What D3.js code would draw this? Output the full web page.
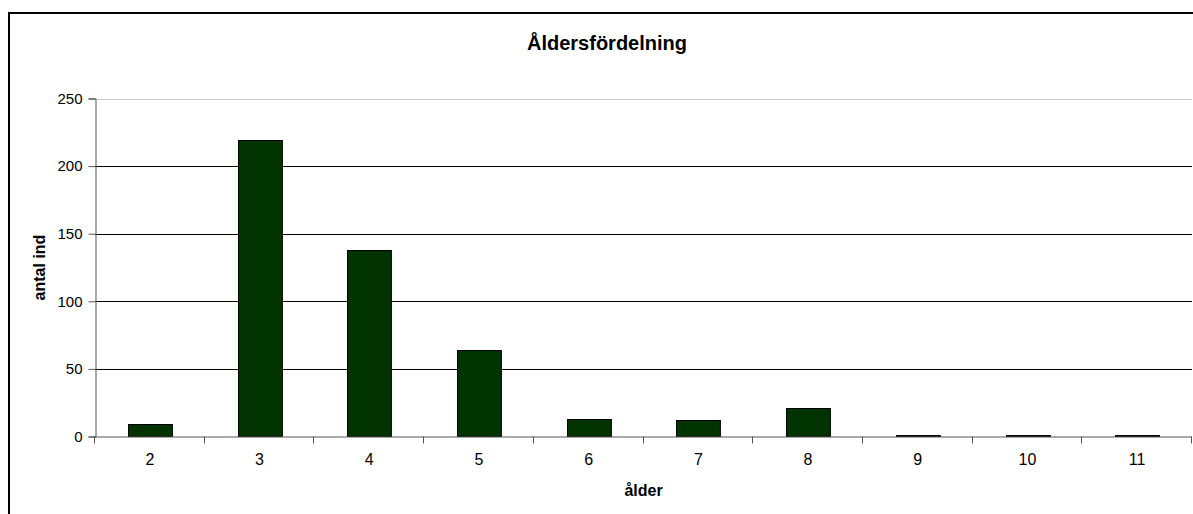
<!DOCTYPE html>
<html><head><meta charset="utf-8">
<script src="https://cdn.jsdelivr.net/npm/d3@7"></script>
<style>html,body{margin:0;padding:0;background:#fff;}svg{display:block;}</style>
</head><body>
<svg id="c" width="1193" height="514"></svg>
<script>
const categories = ["2","3","4","5","6","7","8","9","10","11"];
const values = [9, 219, 138, 64, 13, 12, 21, 1, 1, 1];
const yTicks = [0, 50, 100, 150, 200, 250];
const title = "Åldersfördelning";
const xTitle = "ålder";
const yTitle = "antal ind";

const svg = d3.select("#c");
const W = 1193, H = 514;
const m = {left: 95, right: 1192, top: 98.5, bottom: 436.5};
const FONT = "Arial, 'Liberation Sans', sans-serif";

svg.append("rect").attr("x", 9).attr("y", 13).attr("width", W + 10).attr("height", H + 10)
  .attr("fill", "#fff").attr("stroke", "#000").attr("stroke-width", 2);

const x = d3.scaleBand().domain(categories).range([m.left, m.right]).paddingInner(0.6).paddingOuter(0.3);
const xb = d3.scaleBand().domain(categories).range([m.left, m.right]);
const y = d3.scaleLinear().domain([0, 250]).range([m.bottom, m.top]);

// gridlines
svg.append("g").selectAll("line").data(yTicks.filter(d => d > 0)).join("line")
  .attr("x1", m.left).attr("x2", m.right)
  .attr("y1", d => Math.round(y(d)) + 0.5).attr("y2", d => Math.round(y(d)) + 0.5)
  .attr("stroke", d => d === 250 ? "#c8c8c8" : "#000").attr("stroke-width", 1);

// bars
svg.append("g").selectAll("rect").data(values).join("rect")
  .attr("x", (d, i) => Math.round(x(categories[i])) + 0.5)
  .attr("width", x.bandwidth())
  .attr("y", d => Math.round(y(d)) + 0.5)
  .attr("height", d => Math.max(0, m.bottom - Math.round(y(d)) - 0.5))
  .attr("fill", "#003300").attr("stroke", "#000").attr("stroke-width", 1);

// y axis
const yAxis = d3.axisLeft(y).tickValues(yTicks).tickSize(7).tickPadding(6);
const gy = svg.append("g").attr("transform", `translate(${m.left + 0.5},0)`).call(yAxis);
gy.select(".domain").attr("stroke", "#555");
gy.selectAll(".tick line").attr("stroke", "#555");
gy.selectAll("text").attr("font-family", FONT).attr("font-size", 15).attr("fill", "#000");

// x axis
const xAxis = d3.axisBottom(xb).tickSize(0).tickPadding(17);
const gx = svg.append("g").attr("transform", `translate(0,${m.bottom})`).call(xAxis);
gx.select(".domain").attr("stroke", "#555").attr("d", `M${m.left},0.5H${m.right}`);
gx.selectAll("text").attr("font-family", FONT).attr("font-size", 16).attr("fill", "#000");
// boundary ticks
const bounds = categories.map(c => xb(c)).concat([m.right]);
gx.append("g").selectAll("line").data(bounds).join("line")
  .attr("x1", d => Math.round(d) - 0.5).attr("x2", d => Math.round(d) - 0.5)
  .attr("y1", 0).attr("y2", 7).attr("stroke", "#555");

// titles
svg.append("text").attr("x", 607).attr("y", 50).attr("text-anchor", "middle")
  .attr("font-family", FONT).attr("font-weight", "bold").attr("font-size", 20)
  .text(title);
svg.append("text").attr("x", (m.left + m.right) / 2).attr("y", 496).attr("text-anchor", "middle")
  .attr("font-family", FONT).attr("font-weight", "bold").attr("font-size", 16)
  .text(xTitle);
svg.append("text").attr("transform", `translate(45,${(m.top + m.bottom) / 2}) rotate(-90)`).attr("text-anchor", "middle")
  .attr("font-family", FONT).attr("font-weight", "bold").attr("font-size", 16)
  .text(yTitle);
</script>
</body></html>
